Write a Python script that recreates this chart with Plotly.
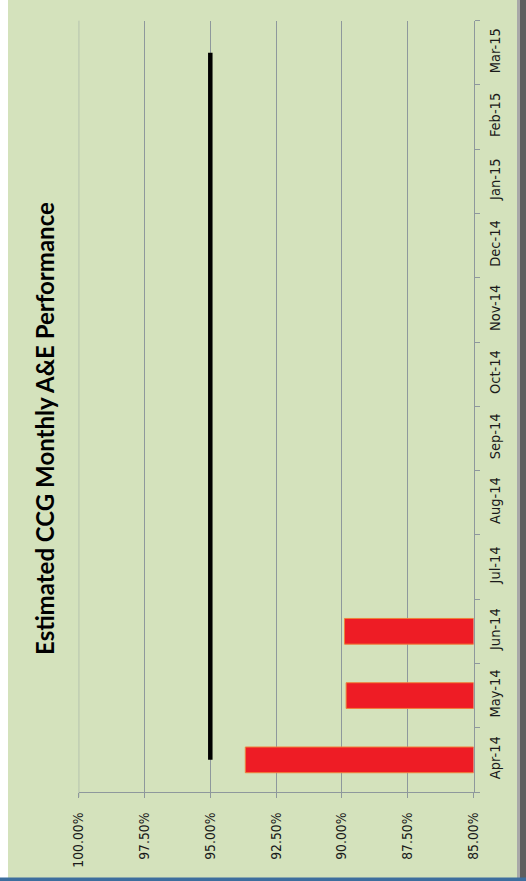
import plotly.graph_objects as go

# Monthly data (financial year 2014/15)
months = ["Apr-14", "May-14", "Jun-14", "Jul-14", "Aug-14", "Sep-14",
          "Oct-14", "Nov-14", "Dec-14", "Jan-15", "Feb-15", "Mar-15"]
performance = [93.67, 89.84, 89.90, None, None, None, None, None, None, None, None, None]
target = [95.0] * 12
pct_ticks = [85.0, 87.5, 90.0, 92.5, 95.0, 97.5, 100.0]
pct_labels = [f"{v:.2f}%" for v in pct_ticks]

W, H = 526, 881
BG = "#D4E2BC"
GRID = "#8E989C"
TXT = "#1A1A1A"
TICK_FONT = "DejaVu Sans Condensed, DejaVu Sans"

def px_x(p):
    return p / W

def px_y(p):
    return 1 - p / H

Y_TOP, Y_BOT = 20.7, 792

fig = go.Figure()

fig.add_trace(go.Bar(
    x=performance, y=months, orientation="h", width=0.4,
    marker=dict(color="#EE1C25", line=dict(color="#F0803A", width=1)),
    showlegend=False, hoverinfo="skip",
))

fig.add_trace(go.Scatter(
    x=target, y=months, mode="lines",
    line=dict(color="#000000", width=4.5),
    showlegend=False, hoverinfo="skip",
))

fig.update_layout(
    width=W, height=H,
    margin=dict(l=0, r=0, t=0, b=0),
    paper_bgcolor=BG, plot_bgcolor=BG,
    xaxis=dict(
        domain=[px_x(78.7), px_x(473.5)],
        range=[100, 85],
        tickvals=pct_ticks, ticktext=pct_labels,
        tickangle=-90,
        ticks="outside", ticklen=5, tickcolor=GRID,
        ticklabelstandoff=9,
        showgrid=True, gridcolor=GRID, gridwidth=1,
        showline=True, linecolor=GRID, linewidth=1,
        zeroline=False,
        tickfont=dict(family=TICK_FONT, size=13.8, color=TXT),
        automargin=False,
        fixedrange=True,
    ),
    yaxis=dict(
        domain=[px_y(Y_BOT), px_y(Y_TOP)],
        type="category",
        categoryorder="array", categoryarray=months,
        range=[-0.5, 11.5],
        side="right",
        tickangle=-90,
        tickson="boundaries",
        ticks="outside", ticklen=5, tickcolor=GRID,
        ticklabelstandoff=8,
        showgrid=False,
        showline=True, linecolor=GRID, linewidth=1,
        tickfont=dict(family=TICK_FONT, size=14.5, color=TXT),
        automargin=False,
        fixedrange=True,
    ),
)

# gridline at the 100% edge of the plot
fig.add_shape(type="line", xref="x", yref="paper",
              x0=100, x1=100, y0=px_y(Y_BOT + 5), y1=px_y(Y_TOP),
              line=dict(color=GRID, width=1), layer="below")

fig.add_annotation(
    text="<b>Estimated CCG Monthly A&E Performance</b>",
    textangle=-90,
    xref="paper", yref="paper",
    x=px_x(44), y=px_y(429),
    xanchor="center", yanchor="middle",
    showarrow=False,
    font=dict(family="Lato", size=24, color="#000000", weight=900),
)

# page frame: white left edge, grey right edge, blue bottom rule
fig.add_shape(type="rect", xref="paper", yref="paper",
              x0=0, x1=px_x(8), y0=0, y1=1,
              fillcolor="#FFFFFF", line=dict(width=0), layer="above")
fig.add_shape(type="rect", xref="paper", yref="paper",
              x0=px_x(517), x1=px_x(520), y0=0, y1=1,
              fillcolor="#A8A8A8", line=dict(width=0), layer="above")
fig.add_shape(type="rect", xref="paper", yref="paper",
              x0=px_x(520), x1=1, y0=0, y1=1,
              fillcolor="#5E5E5E", line=dict(width=0), layer="above")
fig.add_shape(type="rect", xref="paper", yref="paper",
              x0=0, x1=1, y0=0, y1=px_y(877.5),
              fillcolor="#3D6E9E", line=dict(width=0), layer="above")

fig.write_html("out.html")
